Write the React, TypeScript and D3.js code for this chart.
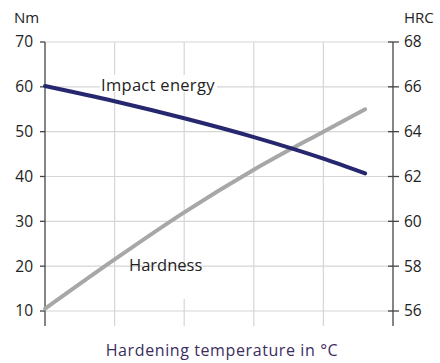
import React from "react";
import * as d3 from "d3";

const temps = [1000, 1020, 1040, 1060, 1080, 1092];
const impactEnergy = [60.2, 56.8, 53.0, 48.8, 44.0, 40.7];
const hardness = [56.1, 58.3, 60.4, 62.3, 64.0, 65.0];
const xGrid = [1000, 1020, 1040, 1060, 1080, 1100];
const leftTicks = [10, 20, 30, 40, 50, 60, 70];
const rightTicks = [56, 58, 60, 62, 64, 66, 68];

const W = 440;
const H = 363;
const FONT = "'Open Sans', sans-serif";

export default function App() {
  const x = d3.scaleLinear().domain([1000, 1100]).range([45, 393]);
  const yL = d3.scaleLinear().domain([10, 70]).range([311, 42]);
  const yR = d3.scaleLinear().domain([56, 68]).range([311, 42]);
  const bottom = 326;

  const lineL = d3
    .line<number>()
    .x((_, i) => x(temps[i]))
    .y((d) => yL(d))
    .curve(d3.curveMonotoneX);
  const lineR = d3
    .line<number>()
    .x((_, i) => x(temps[i]))
    .y((d) => yR(d))
    .curve(d3.curveMonotoneX);

  return (
    <svg
      width={W}
      height={H}
      style={{ position: "absolute", left: 0, top: 0, background: "#fff" }}
      fontFamily={FONT}
    >
      <rect width={W} height={H} fill="#fff" />
      {/* horizontal grid */}
      {leftTicks.map((t) => (
        <line
          key={"h" + t}
          x1={x(1000)}
          x2={x(1100)}
          y1={yL(t)}
          y2={yL(t)}
          stroke="#d6d6d6"
          strokeWidth={1.2}
        />
      ))}
      {/* vertical grid */}
      {xGrid.slice(1, -1).map((t) => (
        <line
          key={"v" + t}
          x1={x(t)}
          x2={x(t)}
          y1={yL(70)}
          y2={bottom}
          stroke="#d6d6d6"
          strokeWidth={1.2}
        />
      ))}
      {/* label background boxes */}
      <rect x={100} y={75} width={117} height={17} fill="#fff" />
      <rect x={128} y={268} width={78} height={31} fill="#fff" />
      {/* left axis */}
      <line x1={x(1000)} x2={x(1000)} y1={yL(70)} y2={bottom} stroke="#444" strokeWidth={1.3} />
      {leftTicks.map((t) => (
        <g key={"l" + t}>
          <line x1={40} x2={x(1000)} y1={yL(t)} y2={yL(t)} stroke="#444" strokeWidth={1.3} />
          <text x={33} y={yL(t)} dy="0.35em" textAnchor="end" fontSize={15.5} fill="#222">
            {t}
          </text>
        </g>
      ))}
      {/* right axis */}
      <line x1={x(1100)} x2={x(1100)} y1={yR(68)} y2={bottom} stroke="#444" strokeWidth={1.3} />
      {rightTicks.map((t) => (
        <g key={"r" + t}>
          <line x1={388} x2={399} y1={yR(t)} y2={yR(t)} stroke="#444" strokeWidth={1.3} />
          <text x={404} y={yR(t)} dy="0.35em" textAnchor="start" fontSize={15.5} fill="#222">
            {t}
          </text>
        </g>
      ))}
      {/* unit labels */}
      <text x={14} y={23} fontSize={15} fill="#222">Nm</text>
      <text x={404} y={23} fontSize={15} fill="#222">HRC</text>
      {/* series */}
      <path
        d={lineR(hardness) || ""}
        fill="none"
        stroke="#a7a7a7"
        strokeWidth={4}
        strokeLinecap="round"
        strokeLinejoin="round"
      />
      <path
        d={lineL(impactEnergy) || ""}
        fill="none"
        stroke="#272770"
        strokeWidth={4}
        strokeLinecap="round"
        strokeLinejoin="round"
      />
      {/* series labels */}
      <text x={101} y={91} fontSize={16.5} letterSpacing={0.3} fill="#222">Impact energy</text>
      <text x={129} y={271} fontSize={16.5} fill="#222">Hardness</text>
      {/* x title */}
      <text x={222} y={356} textAnchor="middle" fontSize={16} letterSpacing={0.6} fill="#3d2d5e">
        Hardening temperature in °C
      </text>
    </svg>
  );
}
